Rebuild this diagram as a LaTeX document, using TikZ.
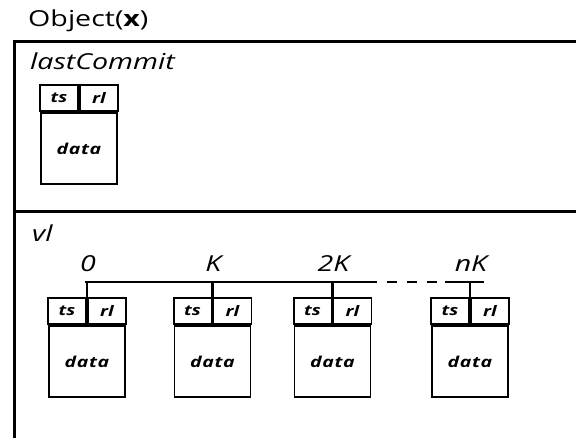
\documentclass[tikz,border=0pt]{standalone}
\usepackage{fontspec}
\setmainfont{Open Sans}
\newfontfamily\widefont[FakeStretch=1.3]{Open Sans}
\newfontfamily\datafont[FakeStretch=1.3, LetterSpace=4]{Open Sans}
\usetikzlibrary{positioning}

\tikzset{
  frameline/.style={line width=3pt},
  barline/.style={line width=2.6pt},
  cell/.style={draw, line width=1.9pt, minimum width=38pt, minimum height=26pt,
               inner sep=0pt, font=\widefont\bfseries\itshape\fontsize{14.5}{15}\selectfont},
  datacell/.style={cell, minimum width=76pt, minimum height=71pt,
                   font=\datafont\bfseries\itshape\fontsize{15}{15}\selectfont},
  idx/.style={anchor=base, inner sep=0pt, font=\widefont\itshape\fontsize{22}{22}\selectfont},
  title/.style={anchor=base west, inner sep=0pt, font=\widefont\fontsize{22}{22}\selectfont}
}

\begin{document}
\begin{tikzpicture}[x=1pt, y=-1pt]
  \useasboundingbox (0,0) rectangle (576,438);

  %% ─── Object frame ─────────────────────────────────────────────────────────
  \node[title] (objname) at (28, 27) {Object(\textbf{x})};
  \coordinate (frameTL) at (14.5, 41.5);
  \coordinate (frameTR) at (576, 41.5);
  \coordinate (frameBL) at (14.5, 438);
  \coordinate (midL) at (14.5, 212);
  \coordinate (midR) at (576, 212);
  \draw[frameline] (frameBL) -- (frameTL) -- (frameTR);
  \draw[frameline] (midL) -- (midR);

  %% ─── lastCommit ───────────────────────────────────────────────────────────
  \node[title, font=\widefont\itshape\fontsize{22}{22}\selectfont] (lastname) at (30, 70) {lastCommit};
  \node[datacell] (datalc) at (79, 148.5) {data};
  \node[cell, anchor=south east] (tslc) at (datalc.north) {ts};
  \node[cell, anchor=south west] (rllc) at (datalc.north) {rl};

  %% ─── vl ───────────────────────────────────────────────────────────────────
  \node[title, font=\widefont\itshape\fontsize{22}{22}\selectfont] (vlname) at (32, 242) {vl};

  \foreach \r/\xc/\lab in {r0/87/0, r1/212.5/K, r2/332.5/2K, rn/470/nK} {
    \node[datacell] (data\r) at (\xc, 361.5) {data};
    \node[cell, anchor=south east] (ts\r) at (data\r.north) {ts};
    \node[cell, anchor=south west] (rl\r) at (data\r.north) {rl};
    \coordinate (bar\r) at (\xc, 282);
    \node[idx] (lab\r) at (\xc+1, 272) {\lab};
    \draw[barline] (bar\r) -- (data\r.north);
  }

  % index bar, dashed between 2K and nK
  \coordinate (barStart) at (85, 282);
  \coordinate (dashL) at (377, 282);
  \coordinate (dashR) at (445, 282);
  \coordinate (barEnd) at (484, 282);
  \draw[barline] (barStart) -- (dashL);
  \draw[barline, dash pattern=on 10pt off 10pt, dash phase=10pt] (dashL) -- (dashR);
  \draw[barline] (dashR) -- (barEnd);
\end{tikzpicture}
\end{document}
